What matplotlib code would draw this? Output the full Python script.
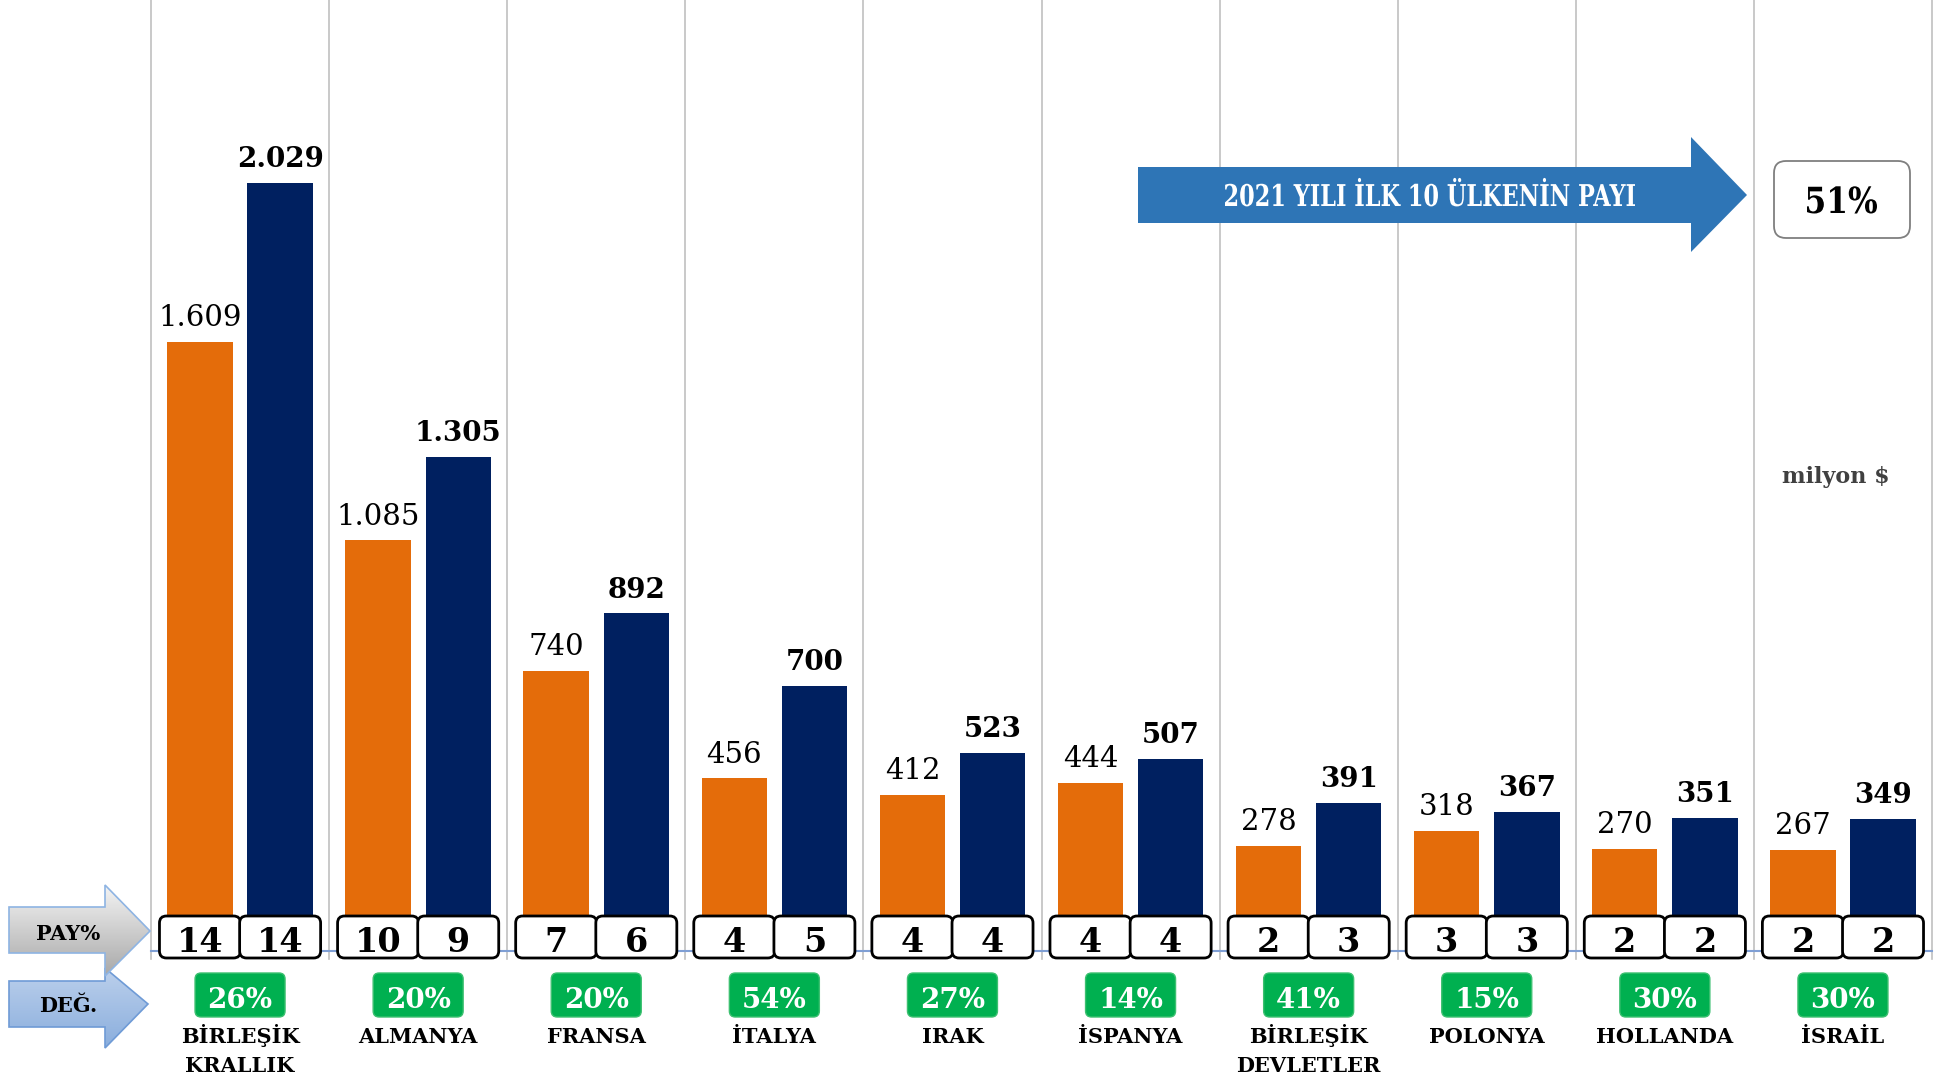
import numpy as np
import matplotlib
matplotlib.use('Agg')
from matplotlib import pyplot as plt
from matplotlib.patches import FancyBboxPatch, Polygon, PathPatch
from matplotlib.colors import LinearSegmentedColormap
from matplotlib.textpath import TextPath
from matplotlib.font_manager import FontProperties
import matplotlib.transforms as mtransforms

plt.rcParams['font.family'] = ['DejaVu Serif']

countries = ['BİRLEŞİK\nKRALLIK', 'ALMANYA', 'FRANSA', 'İTALYA', 'IRAK',
             'İSPANYA', 'BİRLEŞİK\nDEVLETLER', 'POLONYA', 'HOLLANDA', 'İSRAİL']
val_2020 = [1609, 1085, 740, 456, 412, 444, 278, 318, 270, 267]
val_2021 = [2029, 1305, 892, 700, 523, 507, 391, 367, 351, 349]
pay_2020 = [14, 10, 7, 4, 4, 4, 2, 3, 2, 2]
pay_2021 = [14, 9, 6, 5, 4, 4, 3, 3, 2, 2]
degisim = [26, 20, 20, 54, 27, 14, 41, 15, 30, 30]
top10_title = '2021 YILI İLK 10 ÜLKENİN PAYI'
top10_share = 51

ORANGE = '#E46C0A'
NAVY = '#002060'
GREEN = '#00B050'

W, H = 1936, 1077
fig = plt.figure(figsize=(W / 100, H / 100), dpi=100)
fig.patch.set_facecolor('white')

# ana grafik
ax = fig.add_axes([151 / W, 126 / H, (1932 - 151) / W, 951 / H])
n = len(countries)
x = np.arange(n)
bw = 0.367
off = 0.225
ax.bar(x - off, val_2020, bw, color=ORANGE, zorder=3)
ax.bar(x + off, val_2021, bw, color=NAVY, zorder=3)
ax.set_xlim(-0.5, n - 0.5)
ax.set_ylim(0, 2512)

for b in np.arange(-0.5, n, 1.0):
    ax.axvline(b, ymin=-0.008, ymax=1, color='#c0c0c0', lw=1.2, zorder=1, clip_on=False)

for xi, v in zip(x - off, val_2020):
    ax.annotate(f'{v:,}'.replace(',', '.'), (xi, v), xytext=(0, 7), textcoords='offset points',
                ha='center', va='bottom', fontsize=21, color='black')
for xi, v in zip(x + off, val_2021):
    ax.annotate(f'{v:,}'.replace(',', '.'), (xi, v), xytext=(0, 7), textcoords='offset points',
                ha='center', va='bottom', fontsize=20, fontweight='bold', color='black')

for s in ['top', 'left', 'right']:
    ax.spines[s].set_visible(False)
ax.spines['bottom'].set_color('#7f9fd4')
ax.spines['bottom'].set_linewidth(1.5)
ax.set_xticks([])
ax.set_yticks([])

# süsleme katmanı (piksel koordinatları)
ov = fig.add_axes([0, 0, 1, 1], zorder=5)
ov.patch.set_alpha(0)
ov.axis('off')


def px(xd):
    return ax.transData.transform((xd, 0))[0]


def rbox(x0, y0, w, h, r, fc, ec, lw):
    ov.add_patch(FancyBboxPatch((x0 + r, y0 + r), w - 2 * r, h - 2 * r,
                                boxstyle=f'round,pad={r},rounding_size={r}',
                                fc=fc, ec=ec, lw=lw, zorder=4))


def narrow_text(cx, base_y, s, size, width, color):
    fp = FontProperties(family='DejaVu Serif', weight='bold')
    tp = TextPath((0, 0), s, size=size, prop=fp)
    bb = tp.get_extents()
    sx = width / bb.width
    tr = mtransforms.Affine2D().translate(-(bb.x0 + bb.x1) / 2, 0).scale(sx, -1).translate(cx, base_y)
    ov.add_patch(PathPatch(tr.transform_path(tp), fc=color, ec='none', zorder=6))


def grad_arrow(pts, c_top, c_bot, ec, z):
    poly = Polygon(pts, closed=True, fc='none', ec=ec, lw=1.2, zorder=z + 0.5)
    ov.add_patch(poly)
    pts = np.array(pts)
    g = np.linspace(0, 1, 256)[:, None]
    cmap = LinearSegmentedColormap.from_list('g', [c_top, c_bot])
    im = ov.imshow(g, cmap=cmap, extent=[pts[:, 0].min(), pts[:, 0].max(), pts[:, 1].max(), pts[:, 1].min()],
                   aspect='auto', zorder=z, interpolation='bilinear')
    im.set_clip_path(poly)


# PAY% kutuları
for xs, vals in [(x - off, pay_2020), (x + off, pay_2021)]:
    for xi, p in zip(xs, vals):
        cx = px(xi)
        rbox(cx - 40.5, 916, 81, 42, 7, 'white', 'black', 2.0)
        ov.text(cx, 952, str(p), ha='center', va='baseline', fontsize=24, fontweight='bold', zorder=6)

# değişim kutuları ve ülke adları
for i, (c, d) in enumerate(zip(countries, degisim)):
    cx = px(i)
    rbox(cx - 45, 973, 90, 44, 6, GREEN, '#3cc070', 1.0)
    ov.text(cx, 1008, f'{d}%', ha='center', va='baseline', fontsize=20, fontweight='bold',
            color='white', zorder=6)
    for k, line in enumerate(c.split('\n')):
        ov.text(cx, 1043 + 29 * k, line, ha='center', va='baseline', fontsize=15,
                fontweight='bold', zorder=6)

# sol oklar
grad_arrow([(9, 981), (105, 981), (105, 968), (148, 1004), (105, 1048), (105, 1027), (9, 1027)],
           '#bcd0ec', '#8aaedd', '#6f9bd6', 2)
grad_arrow([(9, 907), (105, 907), (105, 885), (150, 931), (105, 976), (105, 953), (9, 953)],
           '#f4f4f4', '#a8a8a8', '#8eb4e3', 3)
ov.text(68, 940, 'PAY%', ha='center', va='baseline', fontsize=15, fontweight='bold', zorder=6)
ov.text(68, 1012, 'DEĞ.', ha='center', va='baseline', fontsize=15, fontweight='bold', zorder=6)

# üst ok ve pay kutusu
ov.add_patch(Polygon([(1138, 167), (1691, 167), (1691, 137), (1747, 195), (1691, 252), (1691, 223), (1138, 223)],
                     closed=True, fc='#2E75B6', ec='none', zorder=4))
narrow_text(1430, 206, top10_title, 30, 410, 'white')
rbox(1774, 161, 136, 77, 12, 'white', '#7f7f7f', 1.3)
narrow_text(1842, 213, f'{top10_share}%', 36, 70, 'black')

ov.text(1836, 483, 'milyon $', ha='center', va='baseline', fontsize=16, fontweight='bold',
        color='#404040', zorder=6)

ov.set_xlim(0, W)
ov.set_ylim(H, 0)

fig.savefig('out.png', dpi=100)
